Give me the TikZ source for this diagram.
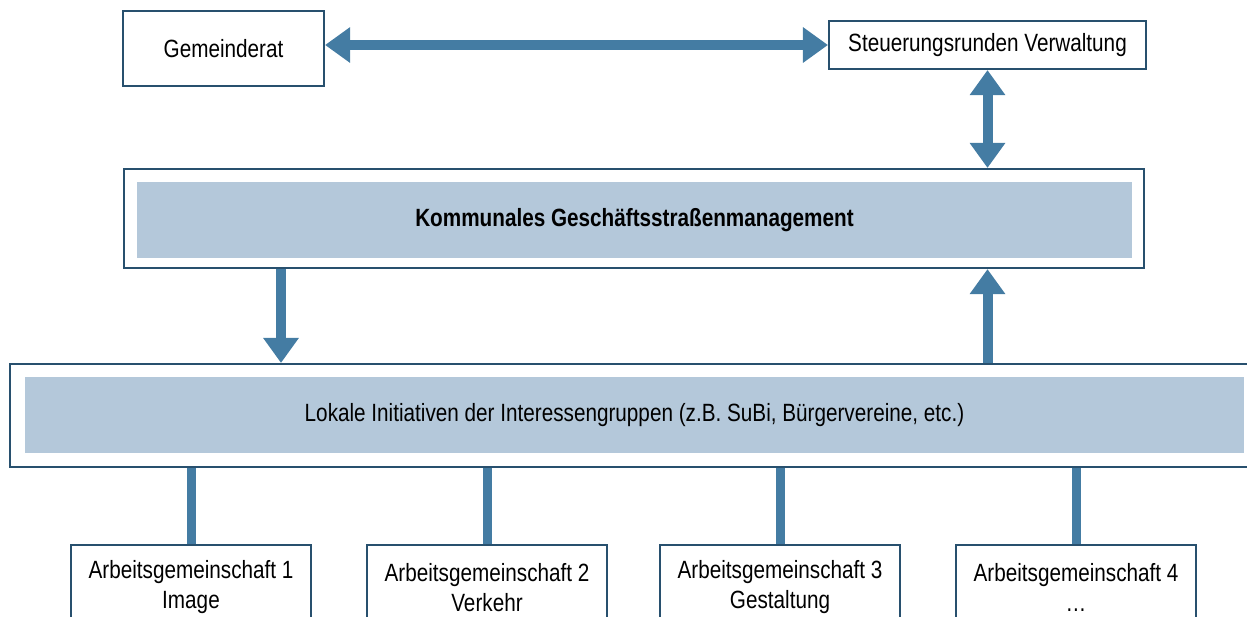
\documentclass[tikz,border=0pt]{standalone}
\usepackage{fontspec}
\setmainfont{Liberation Sans}[FakeStretch=0.83]
\usetikzlibrary{arrows.meta}

\definecolor{boxline}{RGB}{40,80,110}
\definecolor{arrowblue}{RGB}{68,124,163}
\definecolor{panelfill}{RGB}{180,200,218}

\begin{document}
\begin{tikzpicture}[x=0.02cm, y=-0.02cm,
		every node/.style={font=\fontsize{14.2}{17.1}\selectfont},
		box/.style={draw=boxline, line width=1.2pt, fill=white, inner sep=0pt},
		panel/.style={fill=panelfill, inner sep=0pt},
		bigarrow/.style={draw=arrowblue, line width=0.2cm, >={Triangle[width=0.68cm,length=0.5cm]}},
		link/.style={draw=arrowblue, line width=0.18cm}]
		
		\useasboundingbox (0, 0) rectangle (1247, 616);
		\clip (0, 0) rectangle (1247, 616);
		
		% top row
		\node [box, minimum width=4.02cm, minimum height=1.5cm] (rat) at (223.5, 48.5) {Gemeinderat};
		\node [box, minimum width=6.34cm, minimum height=0.96cm] (steuerung) at (987.5, 45) {Steuerungsrunden Verwaltung};
		
		% management
		\node [box, minimum width=20.4cm, minimum height=1.98cm] (kgm) at (634, 218.5) {};
		\node [panel, minimum width=19.9cm, minimum height=1.52cm, font=\fontsize{14.2}{17.1}\selectfont\bfseries] (kgmtext) at (634.5, 220) {Kommunales Geschäftsstraßenmanagement};
		
		% lokale initiativen
		\node [box, minimum width=25cm, minimum height=2.06cm] (lokal) at (635, 415.5) {};
		\node [panel, minimum width=24.38cm, minimum height=1.52cm] (lokaltext) at (634.5, 415) {Lokale Initiativen der Interessengruppen (z.B. SuBi, Bürgervereine, etc.)};
		
		% arbeitsgemeinschaften
		\node [box, minimum width=4.8cm, minimum height=1.7cm, align=center] (ag1) at (191, 587.5) {Arbeitsgemeinschaft 1\\Image};
		\node [box, minimum width=4.8cm, minimum height=1.7cm, align=center] (ag2) at (487, 587.5) {Arbeitsgemeinschaft 2\\Verkehr};
		\node [box, minimum width=4.8cm, minimum height=1.7cm, align=center] (ag3) at (780, 587.5) {Arbeitsgemeinschaft 3\\Gestaltung};
		\node [box, minimum width=4.8cm, minimum height=1.7cm, align=center] (ag4) at (1076, 587.5) {Arbeitsgemeinschaft 4\\\dots};
		
		\coordinate (down) at (281, 0);
		
		\draw [bigarrow, <->] (rat.east |- steuerung.west) -- (steuerung.west);
		\draw [bigarrow, <->] (steuerung.south) -- (steuerung.south |- kgm.north);
		\draw [bigarrow, ->] (down |- kgm.south) -- (down |- lokal.north);
		\draw [bigarrow, ->] (steuerung.south |- lokal.north) -- (steuerung.south |- kgm.south);
		
		\draw [link] (ag1.north |- lokal.south) -- (ag1.north);
		\draw [link] (ag2.north |- lokal.south) -- (ag2.north);
		\draw [link] (ag3.north |- lokal.south) -- (ag3.north);
		\draw [link] (ag4.north |- lokal.south) -- (ag4.north);
		
\end{tikzpicture}
\end{document}
